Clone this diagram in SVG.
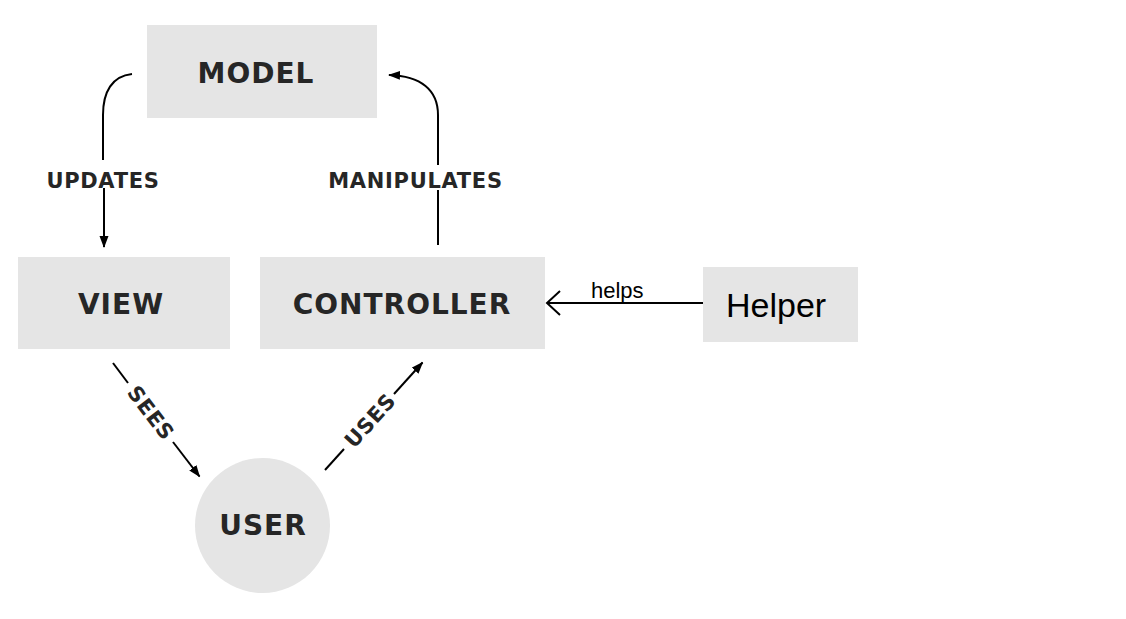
<svg xmlns="http://www.w3.org/2000/svg" width="1126" height="619" viewBox="0 0 1126 619">
<style>
.box{fill:#e5e5e5}
.nt{font-family:"DejaVu Sans",sans-serif;font-weight:bold;font-size:28px;letter-spacing:1px;fill:#262626;text-anchor:middle}
.lb{font-family:"DejaVu Sans",sans-serif;font-weight:bold;font-size:21px;letter-spacing:0.7px;fill:#262626;text-anchor:middle}
.ln{fill:none;stroke:#000;stroke-width:2}
.hl{font-family:"Liberation Sans",Arial,sans-serif;fill:#000}
</style>
<defs>
<marker id="arr" viewBox="0 0 12 10" refX="11" refY="5" markerWidth="12" markerHeight="10" orient="auto" markerUnits="userSpaceOnUse">
<path d="M0,0.5 L12,5 L0,9.5 z" fill="#000"/>
</marker>
</defs>
<rect width="1126" height="619" fill="#fff"/>
<g id="connectors">
<path class="ln" d="M132,74 C112,76 103,92 103,115 L103,160"/>
<path class="ln" d="M104,188 L104,247" marker-end="url(#arr)"/>
<text class="lb" x="103" y="188">UPDATES</text>
<path class="ln" d="M438,245 L438,190"/>
<path class="ln" d="M438,165 L438,115 C438,90 421,76 389,75" marker-end="url(#arr)"/>
<text class="lb" x="415.5" y="188">MANIPULATES</text>
<path class="ln" d="M113,363 L128,383"/>
<path class="ln" d="M173,442 L199.5,476.5" marker-end="url(#arr)"/>
<text class="lb" transform="translate(151,412.8) rotate(52.6)" dy=".36em">SEES</text>
<path class="ln" d="M325,470 L344,449"/>
<path class="ln" d="M394,394 L422.5,362.5" marker-end="url(#arr)"/>
<text class="lb" transform="translate(370,420.4) rotate(-47.8)" dy=".36em">USES</text>
<path class="ln" d="M703,303 L547,303"/>
<path class="ln" d="M560,291 L547,303 L560,315"/>
<text class="hl" x="591" y="298" font-size="22">helps</text>
</g>
<g id="model">
<rect class="box" x="147" y="25" width="230" height="93"/>
<text class="nt" x="256" y="83">MODEL</text>
</g>
<g id="view">
<rect class="box" x="18" y="257" width="212" height="92"/>
<text class="nt" x="121" y="314">VIEW</text>
</g>
<g id="controller">
<rect class="box" x="260" y="257" width="285" height="92"/>
<text class="nt" x="402" y="314">CONTROLLER</text>
</g>
<g id="user">
<circle class="box" cx="262.5" cy="525.5" r="67.5"/>
<text class="nt" x="263" y="535">USER</text>
</g>
<g id="helper">
<rect class="box" x="703" y="267" width="155" height="75"/>
<text class="hl" x="726" y="317" font-size="34">Helper</text>
</g>
</svg>
